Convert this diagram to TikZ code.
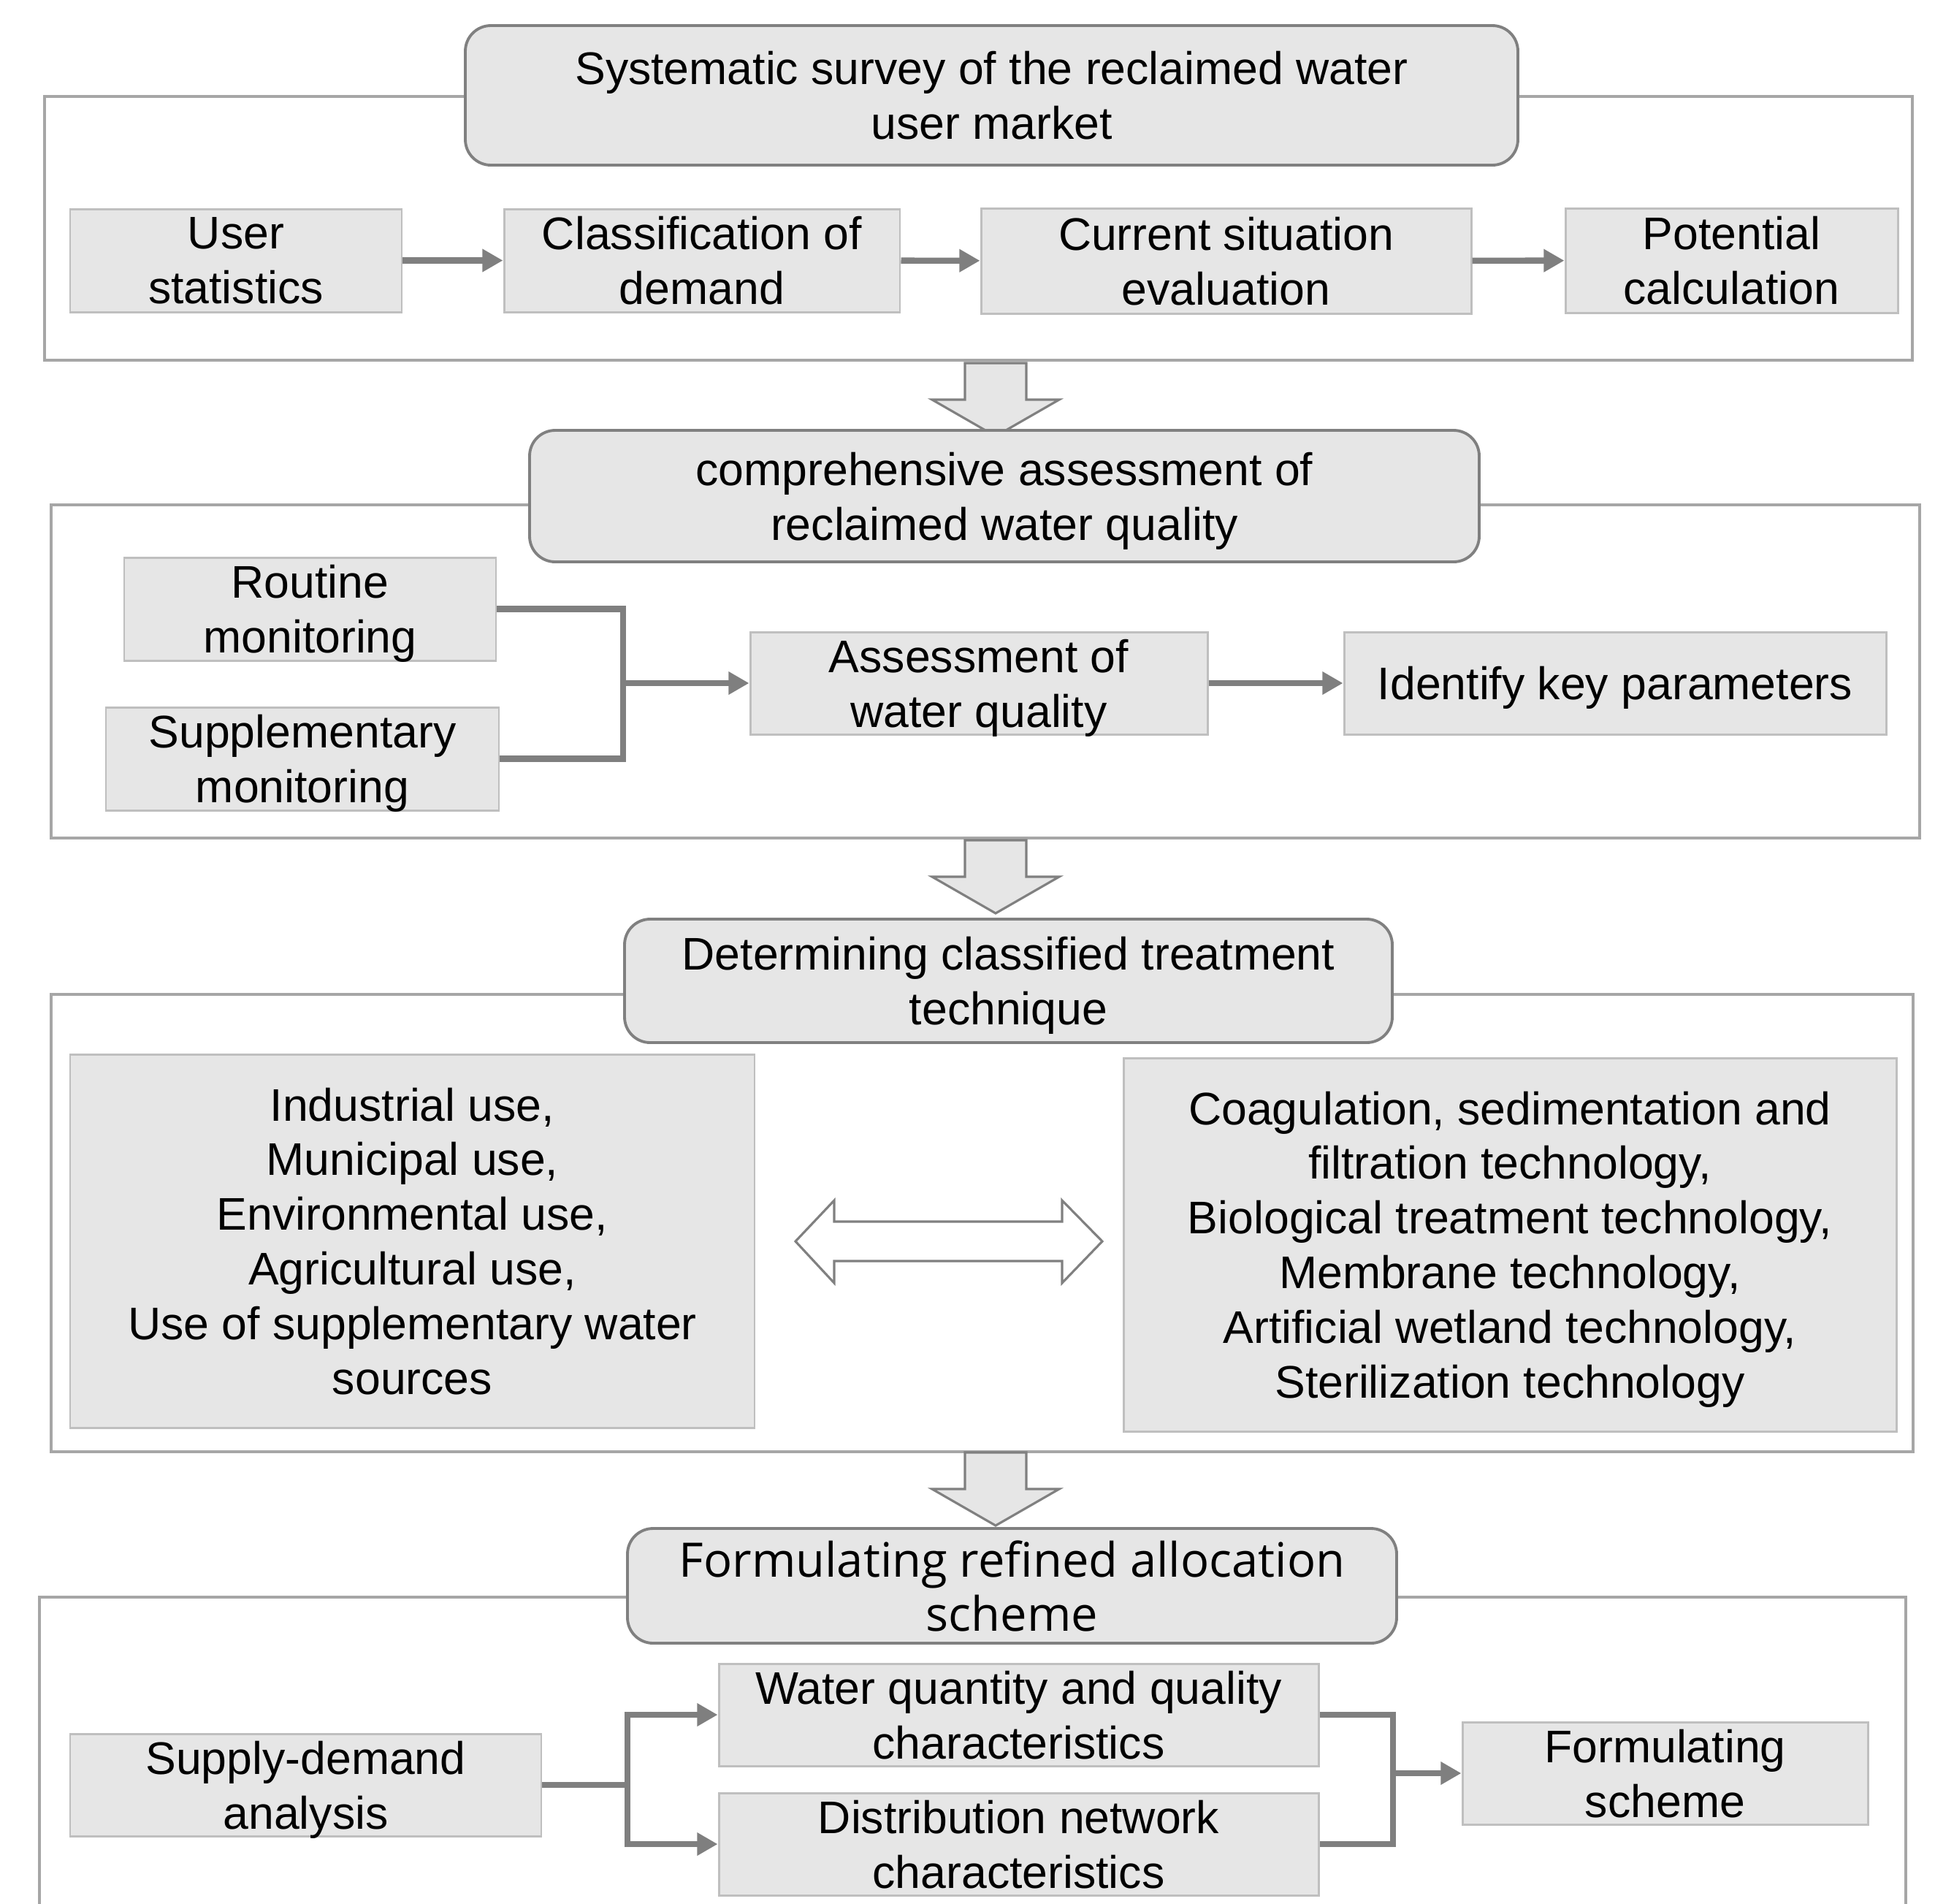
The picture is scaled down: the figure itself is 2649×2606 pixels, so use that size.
\documentclass[tikz,border=0pt]{standalone}
\usepackage{fontspec}
\setmainfont{Liberation Sans}
\newfontfamily\yahei{Open Sans}
\usetikzlibrary{arrows.meta}

\definecolor{boxfill}{HTML}{E6E6E6}
\definecolor{boxline}{HTML}{BFBFBF}
\definecolor{headline}{HTML}{808080}
\definecolor{frameline}{HTML}{A6A6A6}
\definecolor{linkline}{HTML}{7F7F7F}

\tikzset{
  framebox/.style={draw=frameline, line width=1.4pt},
  stagetitle/.style={draw=headline, line width=1.1pt, fill=boxfill, rounded corners=3.5mm,
    inner sep=0pt, align=center, text depth=0pt, font=\fontsize{17.8}{21.3}\selectfont},
  taskbox/.style={draw=boxline, line width=0.85pt, fill=boxfill, inner sep=0pt,
    align=center, text depth=0pt, font=\fontsize{17.8}{21.3}\selectfont},
  link/.style={draw=linkline, line width=2.4pt},
  linkarrow/.style={link, -{Triangle[length=8pt,width=8.5pt]}},
  flowarrow/.style={draw=headline, line width=0.9pt, fill=boxfill, line join=miter},
  twoway/.style={draw=headline, line width=0.9pt, fill=white},
}

% block arrow pointing down, starting at a named coordinate
\newcommand{\flowdown}[1]{\draw[flowarrow] (#1) ++(-42,0) -- ++(84,0) -- ++(0,50) -- ++(45,0)
  -- ++(-87,50) -- ++(-87,-50) -- ++(45,0) -- cycle;}

\begin{document}
\begin{tikzpicture}[x=0.1mm, y=-0.1mm]
\useasboundingbox (0,0) rectangle (2649,2606);
\clip (0,0) rectangle (2649,2606);

% survey of the user market
\draw[framebox] (61,132) rectangle (2618,493);
\node[stagetitle, minimum width=144.1mm, minimum height=19.1mm] (survey) at (1357.5,130.5)
  {Systematic survey of the reclaimed water\\user market};
\node[taskbox, minimum width=45.4mm, minimum height=14.1mm] (users) at (323,356.5) {User\\statistics};
\node[taskbox, minimum width=54.2mm, minimum height=14.1mm] (demand) at (961,356.5) {Classification of\\demand};
\node[taskbox, minimum width=67.1mm, minimum height=14.4mm] (current) at (1678.5,357) {Current situation\\evaluation};
\node[taskbox, minimum width=45.5mm, minimum height=14.3mm] (potential) at (2370.5,356.5) {Potential\\calculation};
\draw[linkarrow] (users) -- (demand);
\draw[linkarrow] (demand) -- (current);
\draw[linkarrow] (current) -- (potential);

\coordinate (down1) at (1363,497);
\flowdown{down1}

% water quality
\draw[framebox] (70,691) rectangle (2628,1147);
\node[stagetitle, minimum width=130mm, minimum height=18mm] (quality) at (1375,679)
  {comprehensive assessment of\\reclaimed water quality};
\node[taskbox, minimum width=50.9mm, minimum height=14.1mm] (routine) at (424.5,833.5) {Routine\\monitoring};
\node[taskbox, minimum width=53.8mm, minimum height=14.1mm] (suppl) at (414,1038.5) {Supplementary\\monitoring};
\node[taskbox, minimum width=62.6mm, minimum height=14mm] (assess) at (1340,935) {Assessment of\\water quality};
\node[taskbox, minimum width=74.2mm, minimum height=14mm] (keypar) at (2211,935) {Identify key parameters};
\coordinate (mjoin) at (853,935);
\draw[link] (routine.east) -| (mjoin) |- (suppl.east);
\draw[linkarrow] (mjoin) -- (assess.west);
\draw[linkarrow] (assess) -- (keypar);

\coordinate (down2) at (1363,1150);
\flowdown{down2}

% treatment technique
\draw[framebox] (70,1361) rectangle (2619,1987);
\node[stagetitle, minimum width=105.1mm, minimum height=16.9mm] (technique) at (1380.5,1342.5)
  {Determining classified treatment\\technique};
\node[taskbox, minimum width=93.7mm, minimum height=51.1mm] (uses) at (564.5,1698.5)
  {Industrial use,\\Municipal use,\\Environmental use,\\Agricultural use,\\Use of supplementary water\\sources};
\node[taskbox, minimum width=105.8mm, minimum height=51.1mm] (techs) at (2067,1703.5)
  {Coagulation, sedimentation and\\filtration technology,\\Biological treatment technology,\\Membrane technology,\\Artificial wetland technology,\\Sterilization technology};
\coordinate (match) at (1299,1699);
\draw[twoway] (match) ++(-210,0) -- ++(53,-56) -- ++(0,29) -- ++(312,0) -- ++(0,-29) -- ++(55,56)
  -- ++(-55,57) -- ++(0,-30) -- ++(-312,0) -- ++(0,30) -- cycle;

\coordinate (down3) at (1363,1988);
\flowdown{down3}

% allocation scheme
\draw[framebox] (54,2186) rectangle (2609,2660);
\begin{scope}[every node/.append style={font=\yahei\fontsize{17.5}{21}\selectfont}]
\node[stagetitle, minimum width=105.3mm, minimum height=15.7mm, font=\yahei\fontsize{18.5}{21}\selectfont] (allocation) at (1385.5,2170.5)
  {Formulating refined allocation\\scheme};
\node[taskbox, minimum width=64.5mm, minimum height=14mm] (supply) at (418.5,2443) {Supply-demand\\analysis};
\node[taskbox, minimum width=82.1mm, minimum height=14mm] (wqq) at (1394.5,2347) {Water quantity and quality\\characteristics};
\node[taskbox, minimum width=82.1mm, minimum height=14mm] (network) at (1394.5,2524) {Distribution network\\characteristics};
\node[taskbox, minimum width=55.5mm, minimum height=14mm] (scheme) at (2279.5,2427) {Formulating\\scheme};
\end{scope}
\coordinate (sjoin) at (859,2443);
\coordinate (cjoin) at (1907,2427);
\draw[link] (supply.east) -- (sjoin);
\draw[linkarrow] (sjoin) |- (wqq.west);
\draw[linkarrow] (sjoin) |- (network.west);
\draw[link] (wqq.east) -| (cjoin) |- (network.east);
\draw[linkarrow] (cjoin) -- (scheme.west);
\end{tikzpicture}
\end{document}
